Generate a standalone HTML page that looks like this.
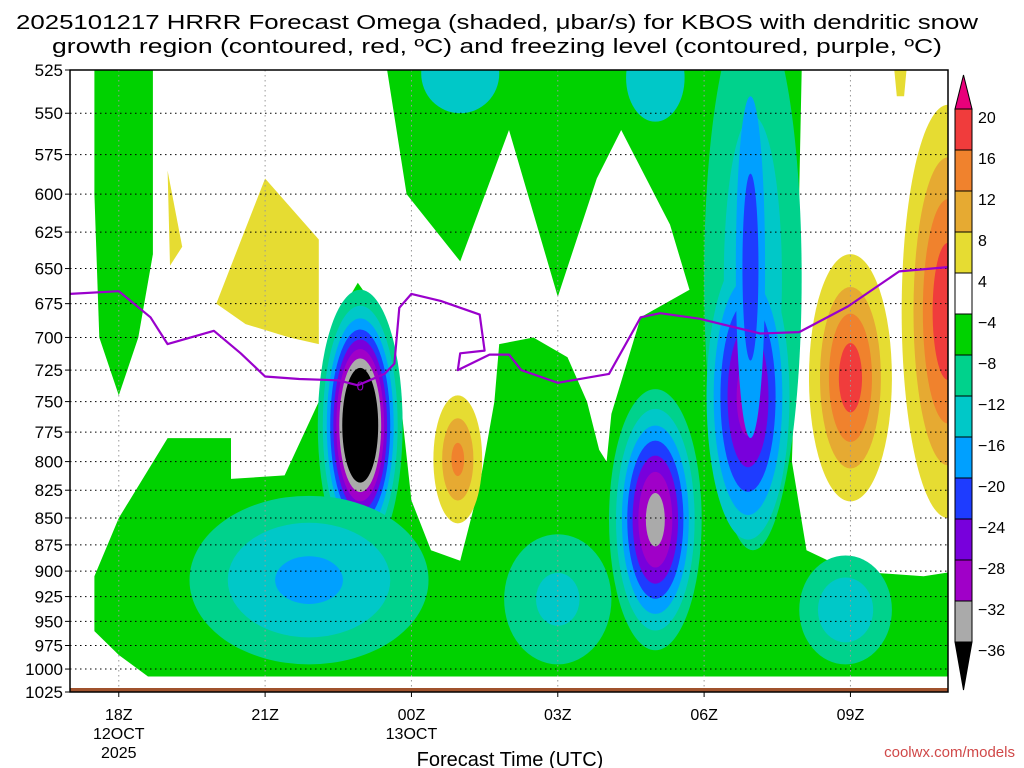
<!DOCTYPE html>
<html><head><meta charset="utf-8"><style>
html,body{margin:0;padding:0;background:#fff;}
svg{display:block;font-family:"Liberation Sans",sans-serif;}
</style></head><body>
<svg id="chart" width="1024" height="768" viewBox="0 0 1024 768" xmlns="http://www.w3.org/2000/svg">
<defs><clipPath id="plotclip"><rect x="70" y="70" width="878" height="622"/></clipPath></defs>
<text x="497" y="29" text-anchor="middle" font-size="20" textLength="962" lengthAdjust="spacingAndGlyphs">2025101217 HRRR Forecast Omega (shaded, μbar/s) for KBOS with dendritic snow</text>
<text x="497" y="53" text-anchor="middle" font-size="20" textLength="890" lengthAdjust="spacingAndGlyphs">growth region (contoured, red, ºC) and freezing level (contoured, purple, ºC)</text>
<g id="plot" clip-path="url(#plotclip)"></g>
<g id="grid"></g>
<g id="overlay" clip-path="url(#plotclip)"></g>
<rect x="70" y="70" width="878" height="622" fill="none" stroke="#000" stroke-width="1.5"/>
<g id="axes"></g>
<g id="cbar"></g>
<text x="510" y="766" text-anchor="middle" font-size="20">Forecast Time (UTC)</text>
<text x="1015" y="757" text-anchor="end" font-size="15" fill="#d04848">coolwx.com/models</text>
</svg>
<script>
// ---- data ----
const pressureTicks=[525,550,575,600,625,650,675,700,725,750,775,800,825,850,875,900,925,950,975,1000,1025];
const timeTickHours=[18,21,24,27,30,33];
const timeTickLabels=["18Z","21Z","00Z","03Z","06Z","09Z"];
const cbarLabels=["20","16","12","8","4","-4","-8","-12","-16","-20","-24","-28","-32","-36"];
const cbarColors=["#f03c3c","#f0822d","#e6aa32","#e6dc32","#ffffff","#00d200","#00d28c","#00c8c8","#00a0ff","#1e3cff","#7800dc","#a000c8","#aaaaaa"];
// green (-4 contour) regions, [hour, hPa]
const greenLeftStrip=[[17.5,525],[18.7,525],[18.7,640],[18.4,700],[18.0,745],[17.6,700],[17.5,600]];
const greenMain=[[17.5,905],[18.0,850],[19.0,780],[20.3,780],[20.3,815],[21.4,812],[22.1,750],[22.4,690],[22.9,660],[23.4,685],[23.75,740],[24.0,834],[24.4,880],[25.0,890],[25.4,820],[25.7,750],[25.8,705],[26.5,700],[27.2,715],[27.6,750],[27.85,790],[28.0,800],[28.1,760],[28.7,685],[29.7,665],[29.3,620],[28.3,560],[27.8,590],[27.0,670],[26.0,560],[25.0,645],[23.9,600],[23.5,525],[32.0,525],[31.9,680],[31.8,800],[32.1,880],[33.0,900],[34.5,905],[35.2,900],[35.2,1008],[18.6,1008],[18.0,985],[17.5,960]];
const yellowLeft=[[20.0,675],[21.0,590],[22.1,630],[22.1,705],[21.5,700],[20.6,690]];
const yellowSmall=[[19.0,585],[19.3,635],[19.05,648]];
const yellowTop=[[33.9,525],[34.15,525],[34.1,540],[33.95,540]];
// omega cells: centre time, outer contour extent (hours half-width, top/bottom hPa), outer level, peak value
const cellHour=[31.0,22.95,21.9,29.0,30.9,30.95,25.0,29.0,32.9,27.0,33.0,35.0,24.95];
const cellHalfHours=[1.0,0.87,2.45,0.95,0.85,0.3,0.8,0.6,0.95,1.1,0.85,0.95,0.5];
const cellPTop=[490,665,830,740,640,540,505,505,885,865,640,545,745];
const cellPBot=[880,890,995,980,870,780,550,555,995,995,835,850,855];
const cellOuter=[-8,-8,-8,-8,-12,-16,-12,-12,-8,-8,4,4,4];
const cellPeak=[-15,-50,-17,-34,-30,-22,-15,-14,-15,-13,18,19,13];
// freezing level [hour, hPa]
const fzHour=[17,18,18.65,19,19.95,20.5,21,21.7,22.5,22.9,23.45,23.65,23.75,24,24.6,25.4,25.5,25,24.95,25.6,26,26.25,27,28.05,28.7,29.1,29.9,31.15,31.95,32.95,34,35];
const fzPress=[668,666,685,705,695,712,730,732,733,737,728,720,678,668,673,683,710,712,725,713,713,725,735,728,685,682,686,697,696,677,652,649];

// ---- axes ----
const X0=70,X1=948,Y0=70,Y1=692,H0=17,H1=35,P0=525,P1=1025;
const x=h=>X0+(h-H0)/(H1-H0)*(X1-X0);
const y=p=>Y0+Math.log(p/P0)/Math.log(P1/P0)*(Y1-Y0);
const NS="http://www.w3.org/2000/svg";
function mk(tag,attrs,parent){const e=document.createElementNS(NS,tag);for(const k in attrs)e.setAttribute(k,attrs[k]);parent.appendChild(e);return e;}
const plot=document.getElementById('plot'),grid=document.getElementById('grid'),axes=document.getElementById('axes'),overlay=document.getElementById('overlay'),cbar=document.getElementById('cbar');
const pts=arr=>arr.map(d=>x(d[0]).toFixed(1)+','+y(d[1]).toFixed(1)).join(' ');
function poly(arr,fill,name){const e=mk('polygon',{points:pts(arr),fill:fill,'stroke-linejoin':'round'},plot);

}
poly(greenLeftStrip,'#00d200','green-region-left');
poly(greenMain,'#00d200','green-region-main');
poly(yellowLeft,'#e6dc32','yellow-region-left');
poly(yellowSmall,'#e6dc32','yellow-region-small');
poly(yellowTop,'#e6dc32','yellow-region-top');
const negLevels=[-8,-12,-16,-20,-24,-28,-32,-36];
const negColors=["#00d28c","#00c8c8","#00a0ff","#1e3cff","#7800dc","#a000c8","#aaaaaa","#000000"];
const posLevels=[4,8,12,16,20];
const posColors=["#e6dc32","#e6aa32","#f0822d","#f03c3c","#e8007a"];
for(let i=0;i<cellHour.length;i++){
  const peak=cellPeak[i],outer=cellOuter[i];
  const cx=x(cellHour[i]);const yt=y(cellPTop[i]),yb=y(cellPBot[i]);
  const cy=(yt+yb)/2,ry=(yb-yt)/2,rx=x(cellHour[i]+cellHalfHours[i])-cx;
  const lv=peak<0?negLevels:posLevels,cl=peak<0?negColors:posColors;
  for(let j=0;j<lv.length;j++){
    const L=lv[j];
    if(peak<0?(L>outer||L<=peak):(L<outer||L>=peak))continue;
    const s=Math.sqrt(Math.log(peak/L)/Math.log(peak/outer));
    const e=mk('ellipse',{cx:cx,cy:cy,rx:rx*s,ry:ry*s,fill:cl[j]},plot);
    
    
  }
}
// grid
pressureTicks.forEach(p=>{const l=mk('line',{x1:X0,x2:X1,y1:y(p),y2:y(p),stroke:'#000','stroke-width':1,'stroke-dasharray':'1.5,3.5'},grid);


const t=mk('text',{x:63,y:y(p)+6,'text-anchor':'end','font-size':17},axes);t.textContent=p;


mk('line',{x1:X0-5,x2:X0,y1:y(p),y2:y(p),stroke:'#000'},axes);});
timeTickHours.forEach((h,i)=>{const l=mk('line',{x1:x(h),x2:x(h),y1:Y0,y2:Y1,stroke:'#999','stroke-width':1,'stroke-dasharray':'1.5,3.5'},grid);


const t=mk('text',{x:x(h),y:720,'text-anchor':'middle','font-size':16},axes);t.textContent=timeTickLabels[i];


mk('line',{x1:x(h),x2:x(h),y1:Y1,y2:Y1+5,stroke:'#000'},axes);});
[["12OCT",739],["2025",758]].forEach((d,i)=>{const t=mk('text',{x:x(18),y:d[1],'text-anchor':'middle','font-size':16},axes);t.textContent=d[0];

});
{const t=mk('text',{x:x(24),y:739,'text-anchor':'middle','font-size':16},axes);t.textContent="13OCT";

}
// ground strip
{const r=mk('rect',{x:X0,y:688,width:X1-X0,height:6,fill:'#a0522d'},overlay);

}
// freezing level
{const d=fzHour.map((h,i)=>(i?'L':'M')+x(h).toFixed(1)+','+y(fzPress[i]).toFixed(1)).join(' ');
const l=mk('path',{d:d,fill:'none',stroke:'#9a00cc','stroke-width':2.2,'stroke-linejoin':'round'},overlay);


const t=mk('text',{x:x(22.95),y:y(737)+5,'text-anchor':'middle','font-size':13,fill:'#9a00cc'},overlay);t.textContent="0";

}
// colorbar
const CB0=109,CBS=41,CX=955,CW=17;
{const a=mk('polygon',{points:`${CX},${CB0} ${CX+CW},${CB0} ${CX+CW/2},75`,fill:'#e8007a',stroke:'#000'},cbar);

}
cbarColors.forEach((c,i)=>{const r=mk('rect',{x:CX,y:CB0+i*CBS,width:CW,height:CBS,fill:c,stroke:'#000'},cbar);

});
{const yb=CB0+cbarColors.length*CBS;const a=mk('polygon',{points:`${CX},${yb} ${CX+CW},${yb} ${CX+CW/2},690`,fill:'#000',stroke:'#000'},cbar);

}
cbarLabels.forEach((s,i)=>{const t=mk('text',{x:978,y:CB0+i*CBS+14,'font-size':16},cbar);t.textContent=s.replace('-','−');

});
</script>
</body></html>
